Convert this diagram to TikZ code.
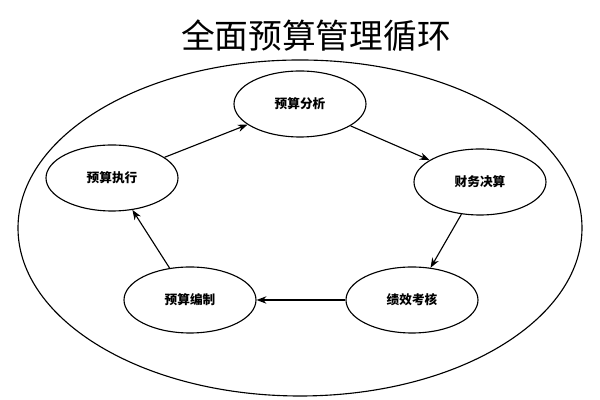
\documentclass[tikz,border=0pt]{standalone}
\usepackage{fontspec}
\newfontfamily\cjk{Noto Sans CJK SC}
\usetikzlibrary{shapes.geometric,arrows.meta}

\tikzset{
  stage/.style={ellipse, draw, thick, minimum width=3.3cm, minimum height=1.65cm, font=\cjk\bfseries\small},
  flow/.style={-{Stealth[length=7pt]}, thick}
}

\begin{document}
\begin{tikzpicture}
    \useasboundingbox (0,0) rectangle (15,10);

    % Title
    \node (title) at (7.9,9.1) {\cjk\fontsize{24}{28}\selectfont 全面预算管理循环};

    % Outer ring
    \draw[thick] (7.5,4.3) ellipse (7.05cm and 4.2cm);

    % Stages
    \node[stage] (fenxi) at (7.5,7.4) {预算分析};
    \node[stage] (juesuan) at (12,5.45) {财务决算};
    \node[stage] (kaohe) at (10.3,2.5) {绩效考核};
    \node[stage] (bianzhi) at (4.75,2.5) {预算编制};
    \node[stage] (zhixing) at (2.8,5.55) {预算执行};

    % Cycle
    \draw[flow] (fenxi) -- (juesuan);
    \draw[flow] (juesuan) -- (kaohe);
    \draw[flow] (kaohe) -- (bianzhi);
    \draw[flow] (bianzhi) -- (zhixing);
    \draw[flow] (zhixing) -- (fenxi);
\end{tikzpicture}
\end{document}
